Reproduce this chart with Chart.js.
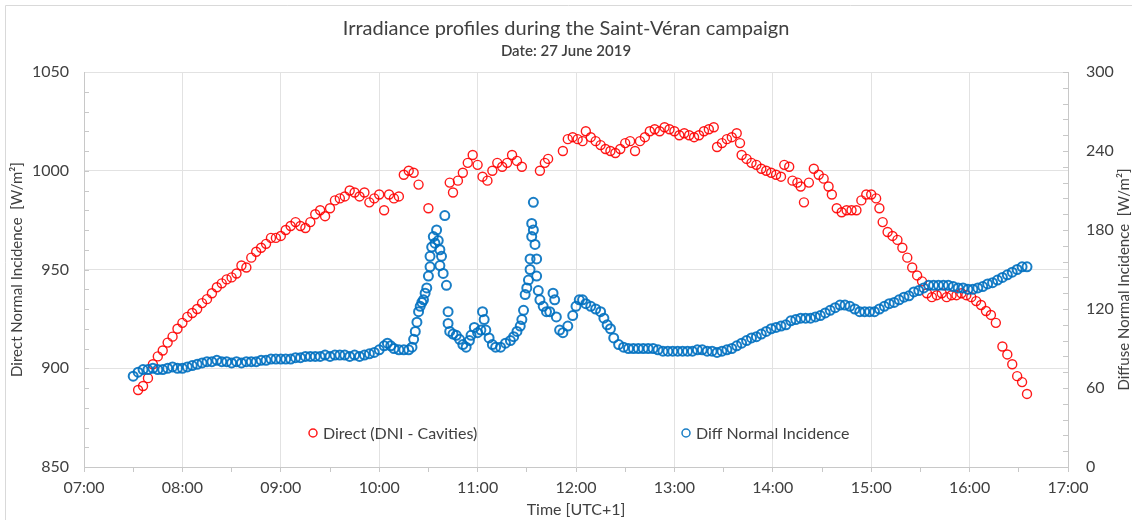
<!DOCTYPE html>
<html>
<head>
<meta charset="utf-8">
<script src="https://cdn.jsdelivr.net/npm/chart.js@4.4.0/dist/chart.umd.min.js"></script>
<style>
body { margin: 0; background: #fff; }
#wrap { width: 1132px; height: 520px; }
</style>
</head>
<body>
<div id="wrap"><canvas id="myChart" width="1132" height="520"></canvas></div>
<script>
// Direct (DNI - Cavities), W/m2, left axis
const directTimes = ['07:33','07:36','07:39','07:42','07:45','07:48','07:51','07:54','07:57',
	'08:00','08:03','08:06','08:09','08:12','08:15','08:18','08:21','08:24','08:27','08:30','08:33','08:36','08:39','08:42','08:45','08:48','08:51','08:54','08:57',
	'09:00','09:03','09:06','09:09','09:12','09:15','09:18','09:21','09:24','09:27','09:30','09:33','09:36','09:39','09:42','09:45','09:48','09:51','09:54','09:57',
	'10:00','10:03','10:06','10:09','10:12','10:15','10:18','10:21','10:24','10:30','10:43','10:45','10:48','10:51','10:54','10:57',
	'11:00','11:03','11:06','11:09','11:12','11:15','11:18','11:21','11:24','11:27','11:38','11:41','11:43','11:52','11:55','11:58',
	'12:01','12:04','12:06','12:09','12:12','12:15','12:18','12:21','12:24','12:27','12:30','12:33','12:36','12:39','12:42','12:45','12:48','12:51','12:54','12:57',
	'13:00','13:03','13:06','13:09','13:12','13:15','13:18','13:21','13:24','13:26','13:29','13:32','13:35','13:38','13:40','13:41','13:44','13:47','13:50','13:53','13:56','13:59',
	'14:02','14:05','14:07','14:10','14:12','14:15','14:17','14:19','14:22','14:25','14:28','14:31','14:34','14:36','14:39','14:42','14:45','14:48','14:51','14:54','14:57',
	'15:00','15:03','15:05','15:07','15:10','15:13','15:16','15:19','15:22','15:25','15:28','15:31','15:34','15:37','15:40','15:43','15:46','15:49','15:52','15:55','15:58',
	'16:01','16:04','16:07','16:10','16:13','16:16','16:20','16:23','16:26','16:29','16:32','16:35'];
const directValues = [889,891,895,902,906,909,913,916,920,
	923,926,928,930,933,935,938,941,943,945,946,948,952,951,956,959,961,963,966,966,
	967,970,972,974,972,971,974,978,980,977,981,985,986,987,990,989,987,989,984,986,
	988,980,988,986,987,998,1000,999,993,981,994,989,995,999,1004,1008,
	1003,997,995,1000,1004,1002,1004,1008,1005,1002,1000,1004,1006,1010,1016,1017,
	1016,1015,1020,1017,1015,1013,1011,1010,1009,1011,1014,1015,1010,1015,1017,1020,1021,1020,1022,1021,
	1020,1018,1019,1018,1017,1018,1020,1021,1022,1012,1014,1016,1017,1019,1014,1008,1006,1004,1003,1001,1000,999,
	998,997,1003,1002,995,994,992,984,994,1001,998,996,992,988,981,979,980,980,980,985,988,
	988,986,981,974,969,967,965,961,956,951,947,944,938,936,937,938,936,937,937,938,937,
	936,934,932,929,927,923,911,907,902,896,893,887];

// Diff Normal Incidence, W/m2, right axis
const diffTimes = ['07:30','07:33','07:36','07:39','07:42','07:45','07:48','07:51','07:54','07:57',
	'08:00','08:03','08:06','08:09','08:12','08:15','08:18','08:21','08:24','08:27','08:30','08:33','08:36','08:39','08:42','08:45','08:48','08:51','08:54','08:57',
	'09:00','09:03','09:06','09:09','09:12','09:15','09:18','09:21','09:24','09:27','09:30','09:33','09:36','09:39','09:42','09:45','09:48','09:51','09:54','09:57',
	'10:00','10:03','10:05','10:07','10:09','10:12','10:15','10:18','10:20','10:21','10:22','10:23','10:24','10:25','10:26','10:27','10:28','10:29',
	'10:30','10:31','10:31','10:32','10:33','10:34','10:35','10:36','10:37','10:37','10:38','10:39','10:40','10:41','10:42','10:42','10:43','10:45','10:47','10:49',
	'10:51','10:53','10:55','10:56','10:58','11:00','11:02','11:03','11:04','11:05','11:07','11:09','11:11','11:14','11:17','11:20','11:22','11:24','11:26','11:27','11:28','11:29',
	'11:30','11:31','11:32','11:32','11:33','11:33','11:34','11:34','11:35','11:36','11:36','11:37','11:38','11:40','11:42','11:44','11:46','11:47','11:48','11:50','11:52','11:55','11:58',
	'12:00','12:02','12:04','12:06','12:09','12:12','12:15','12:17','12:19','12:21','12:23','12:26','12:29','12:32','12:35','12:38','12:41','12:44','12:47','12:50','12:53','12:56','12:59',
	'13:02','13:05','13:08','13:11','13:14','13:17','13:20','13:23','13:26','13:29','13:32','13:35','13:38','13:41','13:44','13:47','13:50','13:53','13:56','13:59',
	'14:02','14:05','14:08','14:11','14:14','14:17','14:20','14:23','14:26','14:29','14:32','14:35','14:38','14:41','14:44','14:47','14:50','14:53','14:56','14:59',
	'15:02','15:05','15:08','15:11','15:14','15:17','15:20','15:23','15:26','15:29','15:32','15:35','15:38','15:41','15:44','15:47','15:50','15:53','15:56','15:59',
	'16:02','16:05','16:08','16:11','16:14','16:17','16:20','16:23','16:26','16:29','16:32','16:35'];
const diffValues = [69,72,74,74,75,74,74,75,76,75,
	75,76,77,78,79,80,80,81,80,80,79,80,79,80,80,80,81,81,82,82,
	82,82,82,83,83,84,84,84,84,85,84,85,85,85,84,85,84,85,86,87,
	89,92,94,92,90,89,89,89,91,97,103,110,118,122,125,127,132,136,
	145,152,160,167,175,170,180,172,165,153,160,147,191,138,118,109,103,101,100,97,
	93,91,96,100,106,102,104,118,112,104,98,93,91,91,94,96,99,103,107,112,119,131,
	136,142,150,158,175,185,201,180,169,158,145,134,127,122,118,118,132,127,114,104,102,107,115,
	122,127,127,124,122,120,118,113,108,105,98,93,91,90,90,90,90,90,90,89,88,88,88,
	88,88,88,88,89,89,88,88,87,88,89,90,92,94,96,98,99,101,103,105,
	106,107,108,111,112,113,113,113,114,115,117,119,121,123,123,122,120,118,118,118,
	118,120,122,124,125,127,129,130,133,134,136,138,138,138,138,138,137,136,136,135,
	135,136,137,139,140,142,144,146,148,150,152,152];

const xTicks = [7, 8, 9, 10, 11, 12, 13, 14, 15, 16, 17];

const toHours = t => { const p = t.split(':'); return +p[0] + p[1] / 60; };
const directPoints = directTimes.map((t, i) => ({ x: toHours(t), y: directValues[i] }));
const diffPoints = diffTimes.map((t, i) => ({ x: toHours(t), y: diffValues[i] }));

const RED = 'rgba(255, 0, 0, 0.9)';
const BLUE = 'rgba(0, 112, 192, 0.9)';
const TEXT = '#404040';
const GRID = '#e2e2e2';
const AXIS = '#c8c8c8';
const FONT = 'Lato, "Open Sans", sans-serif';

// small inward tick marks on both value axes
const minorTicks = {
	id: 'minorTicks',
	beforeDatasetsDraw(chart) {
		const { ctx, chartArea, scales } = chart;
		ctx.save();
		ctx.strokeStyle = AXIS;
		ctx.lineWidth = 1;
		ctx.beginPath();
		for (let v = 850; v < 1050; v += 10) {
			const y = Math.round(scales.y.getPixelForValue(v)) + 0.5;
			ctx.moveTo(chartArea.left, y);
			ctx.lineTo(chartArea.left + 5, y);
		}
		for (let v = 0; v <= 300; v += 12) {
			const y = Math.round(scales.y2.getPixelForValue(v)) + 0.5;
			ctx.moveTo(chartArea.right, y);
			ctx.lineTo(chartArea.right - 5, y);
		}
		ctx.stroke();
		ctx.restore();
	}
};

// legend inside the plot + right axis title (reads bottom to top) + outer frame
const extras = {
	id: 'extras',
	afterDraw(chart) {
		const { ctx, chartArea } = chart;
		ctx.save();
		ctx.strokeStyle = '#d9d9d9';
		ctx.lineWidth = 1;
		ctx.beginPath();
		ctx.moveTo(5.5, 520);
		ctx.lineTo(5.5, 5.5);
		ctx.lineTo(1132, 5.5);
		ctx.stroke();

		ctx.font = '16px ' + FONT;
		ctx.textBaseline = 'middle';
		ctx.fillStyle = TEXT;
		const items = [
			{ label: chart.data.datasets[0].label, color: RED, x: 313 },
			{ label: chart.data.datasets[1].label, color: BLUE, x: 686 }
		];
		items.forEach(it => {
			ctx.beginPath();
			ctx.strokeStyle = it.color;
			ctx.lineWidth = 1.5;
			ctx.arc(it.x, 433, 4, 0, Math.PI * 2);
			ctx.stroke();
			ctx.fillText(it.label, it.x + 10, 434);
		});

		ctx.translate(1124, (chartArea.top + chartArea.bottom) / 2 + 10);
		ctx.rotate(-Math.PI / 2);
		ctx.textAlign = 'center';
		ctx.font = '15px ' + FONT;
		ctx.fillText('Diffuse Normal Incidence  [W/m²]', 0, 0);
		ctx.restore();
	}
};

const ctx = document.getElementById('myChart');
const myChart = new Chart(ctx, {
	type: 'scatter',
	data: {
		datasets: [{
			label: 'Direct (DNI - Cavities)',
			data: directPoints,
			yAxisID: 'y',
			order: 2,
			borderColor: RED,
			backgroundColor: 'rgba(0,0,0,0)',
			pointRadius: 4.5,
			pointBorderWidth: 1.4
		}, {
			label: 'Diff Normal Incidence',
			data: diffPoints,
			yAxisID: 'y2',
			order: 1,
			borderColor: BLUE,
			backgroundColor: 'rgba(0,0,0,0)',
			pointRadius: 4.5,
			pointBorderWidth: 2
		}]
	},
	options: {
		responsive: false,
		animation: false,
		devicePixelRatio: 1,
		layout: { padding: 0 },
		plugins: {
			legend: { display: false },
			tooltip: { enabled: false },
			title: {
				display: true,
				text: 'Irradiance profiles during the Saint-Véran campaign',
				color: TEXT,
				font: { family: FONT, size: 20, weight: 'normal' },
				padding: { top: 17, bottom: 1 }
			},
			subtitle: {
				display: true,
				text: 'Date: 27 June 2019',
				color: TEXT,
				font: { family: FONT, size: 15, weight: '600' },
				padding: { top: 0, bottom: 12 }
			}
		},
		scales: {
			x: {
				type: 'linear',
				min: 7,
				max: 17,
				afterBuildTicks: s => {
					const t = [];
					xTicks.forEach((h, i) => {
						t.push({ value: h });
						if (i < xTicks.length - 1) t.push({ value: h + 0.5 });
					});
					s.ticks = t;
				},
				afterFit: s => { s.height = 53; },
				ticks: {
					autoSkip: false,
					maxRotation: 0,
					padding: 6,
					color: TEXT,
					font: { family: FONT, size: 16 },
					callback: v => (v % 1 === 0 ? String(v).padStart(2, '0') + ':00' : '')
				},
				grid: {
					color: c => (c.tick && c.tick.value % 1 === 0 ? GRID : 'rgba(0,0,0,0)'),
					tickColor: AXIS,
					tickLength: 5
				},
				border: { color: AXIS },
				title: {
					display: true,
					text: 'Time [UTC+1]',
					color: TEXT,
					font: { family: FONT, size: 16 },
					padding: { top: 0, bottom: 1 }
				}
			},
			y: {
				position: 'left',
				min: 850,
				max: 1050,
				afterFit: s => { s.width = 84; },
				ticks: {
					stepSize: 50, padding: 15, color: TEXT,
					font: { family: FONT, size: 16 },
					callback: v => String(v)
				},
				grid: { color: GRID, drawTicks: false },
				border: { color: AXIS },
				title: {
					display: true,
					text: 'Direct Normal Incidence  [W/m²]',
					color: TEXT,
					font: { family: FONT, size: 15 },
					padding: { top: 8, bottom: 0 }
				}
			},
			y2: {
				position: 'right',
				min: 0,
				max: 300,
				afterFit: s => { s.width = 64; },
				ticks: {
					stepSize: 60, padding: 18, color: TEXT,
					font: { family: FONT, size: 16 },
					callback: v => String(v)
				},
				grid: { drawOnChartArea: false, drawTicks: false },
				border: { color: AXIS }
			}
		}
	},
	plugins: [minorTicks, extras]
});
</script>
</body>
</html>
